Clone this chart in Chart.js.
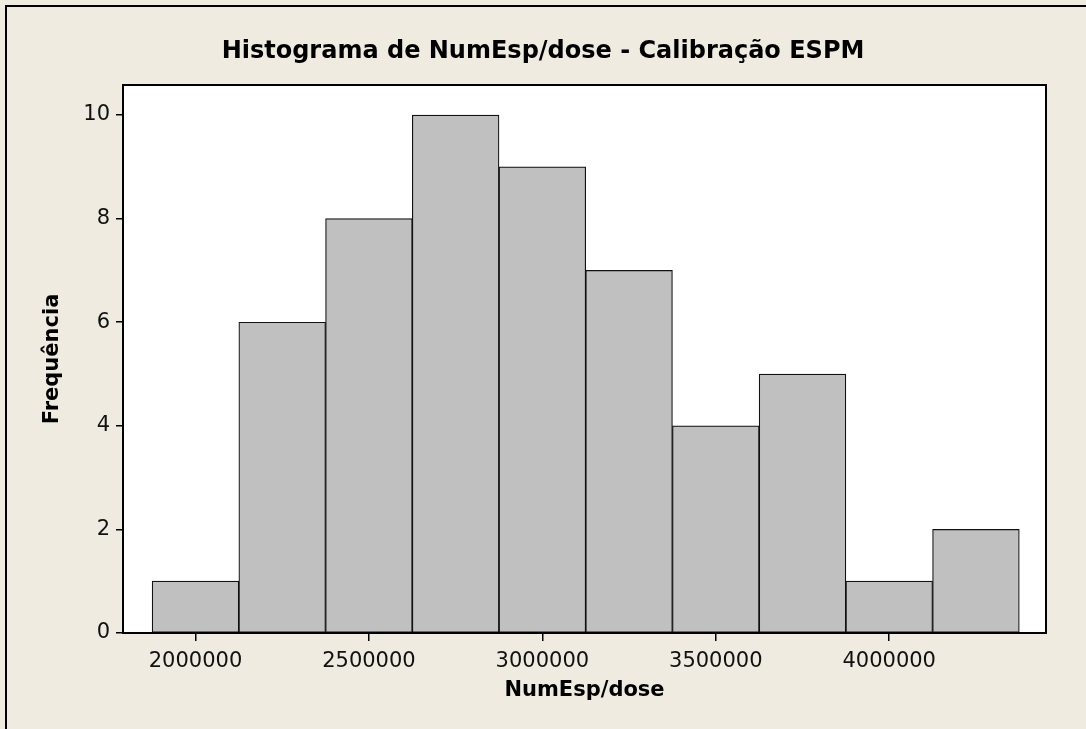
<!DOCTYPE html>
<html>
<head>
<meta charset="utf-8">
<script src="https://cdn.jsdelivr.net/npm/chart.js@4.4.0/dist/chart.umd.min.js"></script>
<style>
  html, body { margin: 0; padding: 0; background: #EFEBE1; }
  #chart { display: block; }
</style>
</head>
<body>
<canvas id="chart" width="1086" height="729"></canvas>
<script>
// Histogram data (bin centres and counts)
const binCenters = [2000000, 2250000, 2500000, 2750000, 3000000, 3250000, 3500000, 3750000, 4000000, 4250000];
const counts = [1, 6, 8, 10, 9, 7, 4, 5, 1, 2];
const xTicks = [2000000, 2500000, 3000000, 3500000, 4000000];
const yTicks = [0, 2, 4, 6, 8, 10];

const chartTitle = 'Histograma de NumEsp/dose - Calibração ESPM';
const xTitle = 'NumEsp/dose';
const yTitle = 'Frequência';

const FONT = '"DejaVu Sans", Verdana, sans-serif';

// Outer frame, white plot area, plot border, title
const framePlugin = {
    id: 'frame',
    beforeDraw(chart) {
        const ctx = chart.ctx;
        const a = chart.chartArea;
        ctx.save();
        ctx.fillStyle = '#EFEBE1';
        ctx.fillRect(0, 0, chart.width, chart.height);
        ctx.strokeStyle = '#000';
        ctx.lineWidth = 2;
        ctx.beginPath();
        ctx.moveTo(6, chart.height);
        ctx.lineTo(6, 6);
        ctx.lineTo(chart.width, 6);
        ctx.stroke();
        ctx.fillStyle = '#fff';
        ctx.fillRect(a.left, a.top, a.right - a.left, a.bottom - a.top);
        ctx.fillStyle = '#000';
        ctx.font = 'bold 24px ' + FONT;
        ctx.textAlign = 'center';
        ctx.textBaseline = 'middle';
        ctx.fillText(chartTitle, 543, 52);
        ctx.restore();
    },
    afterDraw(chart) {
        const ctx = chart.ctx;
        const a = chart.chartArea;
        ctx.save();
        ctx.strokeStyle = '#000';
        ctx.lineWidth = 2;
        ctx.strokeRect(a.left, a.top, a.right - a.left, a.bottom - a.top);
        ctx.restore();
    }
};

const ctx = document.getElementById('chart').getContext('2d');
const chart = new Chart(ctx, {
    type: 'bar',
    data: {
        datasets: [{
            data: binCenters.map((x, i) => ({ x: x, y: counts[i] })),
            backgroundColor: '#C0C0C0',
            borderColor: '#111',
            borderWidth: 1.2,
            borderSkipped: false,
            barPercentage: 1,
            categoryPercentage: 1
        }]
    },
    options: {
        responsive: false,
        animation: false,
        devicePixelRatio: 1,
        layout: { padding: { left: 0, right: 40, top: 85, bottom: 0 } },
        plugins: {
            legend: { display: false },
            title: { display: false },
            tooltip: { enabled: false }
        },
        scales: {
            x: {
                type: 'linear',
                offset: false,
                min: 1791000,
                max: 4452000,
                afterBuildTicks: (scale) => { scale.ticks = xTicks.map(v => ({ value: v })); },
                afterFit: (scale) => { scale.height = 96; },
                ticks: {
                    color: '#111',
                    font: { family: FONT, size: 21 },
                    padding: 8,
                    maxRotation: 0,
                    callback: (v) => String(v)
                },
                grid: { offset: false, drawOnChartArea: false, drawTicks: true, tickLength: 8, color: '#000', lineWidth: 1.5 },
                border: { display: true, color: '#000', width: 2 },
                title: {
                    display: true,
                    text: xTitle,
                    color: '#000',
                    font: { family: FONT, size: 21, weight: 'bold' },
                    padding: { top: 0, bottom: 26 }
                }
            },
            y: {
                min: 0,
                max: 10.58,
                afterBuildTicks: (scale) => { scale.ticks = yTicks.map(v => ({ value: v })); },
                afterFit: (scale) => { scale.width = 123; },
                ticks: {
                    color: '#111',
                    font: { family: FONT, size: 21 },
                    padding: 6
                },
                grid: { drawOnChartArea: false, drawTicks: true, tickLength: 7, color: '#000', lineWidth: 1.5 },
                border: { display: true, color: '#000', width: 2 },
                title: {
                    display: true,
                    text: yTitle,
                    color: '#000',
                    font: { family: FONT, size: 21, weight: 'bold' },
                    padding: { top: 40, bottom: 0 }
                }
            }
        }
    },
    plugins: [framePlugin]
});
</script>
</body>
</html>
